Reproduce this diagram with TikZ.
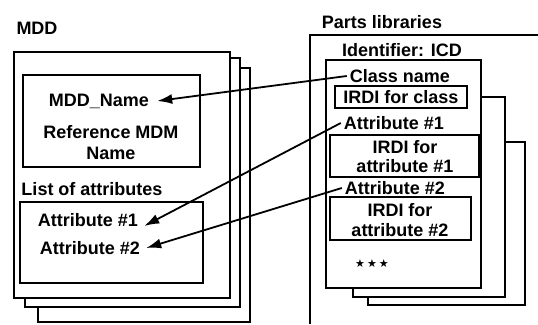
\documentclass[tikz,border=0pt]{standalone}
\usepackage{fontspec}
\setmainfont{Liberation Sans}
\newfontfamily\symfont{DejaVu Sans}
\usetikzlibrary{arrows.meta}
\begin{document}
\begin{tikzpicture}[x=1pt,y=-1pt,
  box/.style={draw=black,line width=1.8pt,fill=white},
  lbl/.style={inner sep=0pt,font=\fontsize{18}{20}\selectfont\bfseries},
  arr/.style={line width=1.8pt,-{Latex[length=15pt,width=10pt]}}]
\useasboundingbox[fill=white] (0,0) rectangle (538,324);
% left stack
\draw[box] (38,68) rectangle (250,322);
\draw[box] (25,58) rectangle (240,307);
\draw[box] (14,52) rectangle (230,298);
\draw[box] (23,75) rectangle (200,167);
\draw[box] (20,202) rectangle (203,283);
\node[lbl] (mdd) at (37,28) {MDD};
\node[lbl] (mddname) at (99,101) {MDD\_Name};
\node[lbl] (refmdm) at (111,132) {Reference MDM};
\node[lbl] (refname) at (111,153) {Name};
\node[lbl] (list) at (92,189) {List of attributes};
\node[lbl] (la1) at (88,220) {Attribute \#1};
\node[lbl] (la2) at (90,248) {Attribute \#2};
% right
\draw[line width=1.8pt] (310,324) -- (310,35) -- (538,35);
\draw[box] (368,142) rectangle (525,305);
\draw[box] (353,97) rectangle (505,297);
\draw[box] (326,60) rectangle (481,288);
\draw[box,line width=2.6pt] (335,86) rectangle (467,108);
\draw[box] (330,135) rectangle (479,177);
\draw[box] (330,197) rectangle (471,240);
\node[lbl] (parts) at (382,22) {Parts libraries};
\node[lbl] (ident) at (402,50) {Identifier: ICD};
\node[lbl] (cn) at (400,76) {Class name};
\node[lbl] (irdic) at (401,97) {IRDI for class};
\node[lbl] (ra1) at (394,123) {Attribute \#1};
\node[lbl] (irdi1a) at (405,147) {IRDI for};
\node[lbl] (irdi1b) at (405,166) {attribute \#1};
\node[lbl] (ra2) at (395,188) {Attribute \#2};
\node[lbl] (irdi2a) at (400,210) {IRDI for};
\node[lbl] (irdi2b) at (400,230) {attribute \#2};
\node[inner sep=0pt,font=\symfont\fontsize{11}{12}\selectfont] (dots) at (372,264) {★\hspace{2pt}★\hspace{2pt}★};
% arrows
\draw[arr] ([xshift=-3pt]cn.west) -- ([xshift=8pt]mddname.east);
\draw[arr] ([xshift=-3pt]ra1.west) -- ([xshift=6pt,yshift=-6pt]la1.east);
\draw[arr] ([xshift=-3pt]ra2.west) -- ([xshift=6pt]la2.east);
\end{tikzpicture}
\end{document}
